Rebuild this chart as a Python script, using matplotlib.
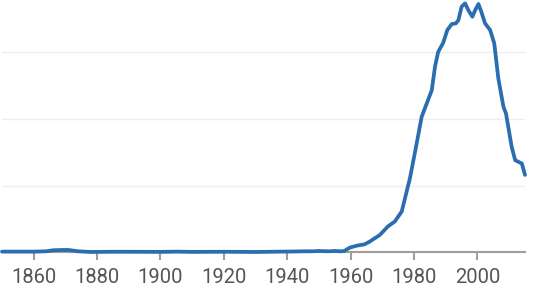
import matplotlib
matplotlib.use("Agg")
import matplotlib.pyplot as plt

years = [1850, 1855, 1860, 1864, 1866, 1869, 1871, 1874, 1878, 1885, 1890, 1900,
         1905, 1910, 1920, 1930, 1938, 1942, 1945, 1948, 1950, 1953, 1955, 1957,
         1958, 1959.7, 1962, 1964.4, 1966.0, 1969.2, 1971.8, 1973.9, 1976.1,
         1978.7, 1980.5, 1982.4, 1984.0, 1985.6, 1986.6, 1987.6, 1989.2, 1990.5,
         1991.9, 1993.2, 1994.0, 1995.0, 1996.1, 1997.2, 1998.4, 1999.2, 2000.3,
         2001.1, 2002.4, 2004.0, 2005.3, 2006.6, 2008.2, 2009.0, 2010.8, 2011.9,
         2014.0, 2015.0]
values = [0.01, 0.01, 0.01, 0.015, 0.03, 0.035, 0.035, 0.015, 0.005, 0.008, 0.008, 0.006,
          0.01, 0.006, 0.008, 0.005, 0.01, 0.012, 0.015, 0.015, 0.02, 0.015, 0.02, 0.015,
          0.02, 0.07, 0.10, 0.12, 0.16, 0.26, 0.39, 0.46, 0.61,
          1.11, 1.55, 2.03, 2.23, 2.43, 2.78, 3.00, 3.14, 3.33,
          3.42, 3.43, 3.48, 3.68, 3.73, 3.62, 3.53, 3.62, 3.72,
          3.62, 3.43, 3.33, 3.13, 2.60, 2.18, 2.08, 1.58, 1.38,
          1.33, 1.16]
xticks = [1860, 1880, 1900, 1920, 1940, 1960, 1980, 2000]
ygrid = [1, 2, 3]

W, H = 540, 297
fig = plt.figure(figsize=(W / 100, H / 100), dpi=100)
ax = fig.add_axes([2 / W, (H - 252.3) / H, (525 - 2) / W, 252.3 / H])
ax.set_xlim(1850, 2015)
ax.set_ylim(0, 3.78)

for g in ygrid:
    ax.axhline(g, color="#eeeeee", linewidth=1.0, zorder=0)

ax.plot(years, values, color="#2a6db0", linewidth=2.7, solid_joinstyle="round",
        solid_capstyle="round", zorder=3, clip_on=False)

for s in ["top", "left", "right"]:
    ax.spines[s].set_visible(False)
ax.spines["bottom"].set_color("#9e9e9e")
ax.spines["bottom"].set_linewidth(1.5)
ax.set_yticks([])
ax.set_xticks(xticks)
ax.set_xticklabels([str(t) for t in xticks], fontfamily="Roboto", fontsize=14.5,
                   color="#555555")
ax.tick_params(axis="x", length=6, width=1.5, color="#9e9e9e", pad=5)

fig.savefig("out.png", dpi=100, facecolor="white")
